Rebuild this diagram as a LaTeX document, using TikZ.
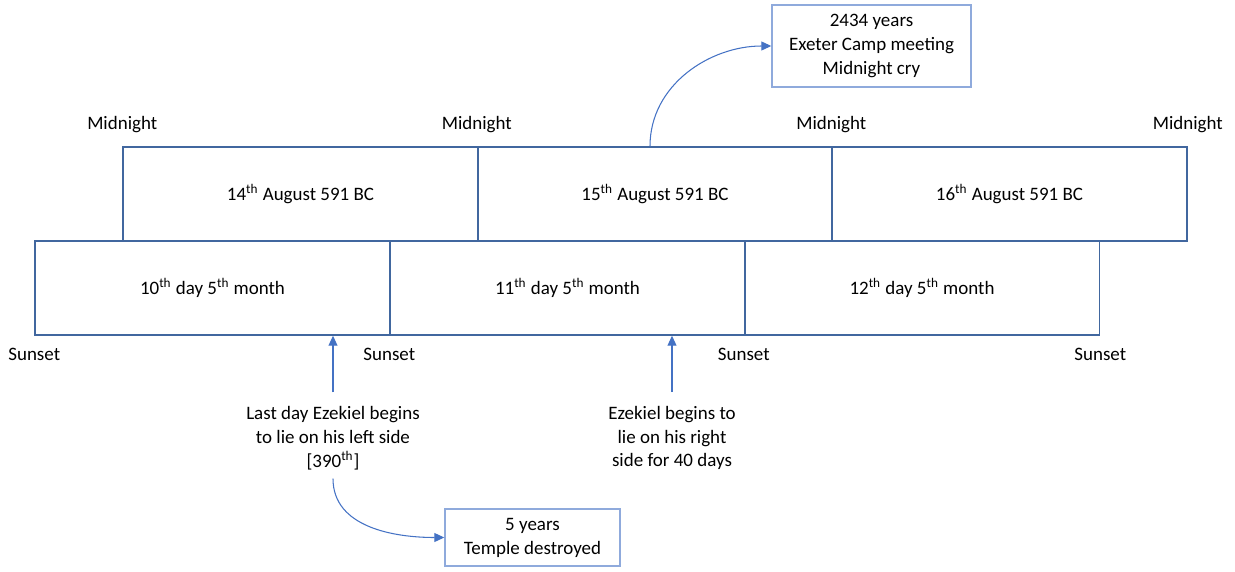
\documentclass[tikz,border=0pt]{standalone}
\usepackage{fontspec}
\setmainfont{Carlito}
\usepackage{tikz}
\usetikzlibrary{arrows.meta,calc,positioning}
\definecolor{daybox}{HTML}{41679F}
\definecolor{notebox}{HTML}{8FAADC}
\definecolor{arrowblue}{HTML}{4472C4}
\newcommand{\thsup}{\textsuperscript{th}}

\begin{document}
\begin{tikzpicture}[>={Triangle[length=2mm,width=1.8mm]},
  font=\fontsize{10.8}{13.6}\selectfont,
  day/.style={draw=daybox,line width=0.85pt,minimum width=7.1cm,minimum height=1.88cm,inner sep=0pt},
  note/.style={draw=notebox,line width=0.8pt,align=center},
  lbl/.style={inner sep=0pt},
  txt/.style={align=center,inner sep=2pt},
  pointer/.style={->,arrowblue,line width=0.6pt}]
  \useasboundingbox (0,0) rectangle (24.7,11.42);

  % calendar days, midnight to midnight
  \node[day] (aug14) at (6.01,7.54) {14\thsup{} August 591 BC};
  \node[day] (aug15) at (13.1,7.54) {15\thsup{} August 591 BC};
  \node[day] (aug16) at (20.19,7.54) {16\thsup{} August 591 BC};

  % hebrew days, sunset to sunset
  \node[day] (day10) at (4.25,5.66) {10\thsup{} day 5\thsup{} month};
  \node[day] (day11) at (11.35,5.66) {11\thsup{} day 5\thsup{} month};
  \node[day] (day12) at (18.44,5.66) {12\thsup{} day 5\thsup{} month};

  \node[lbl] (mid1) at ([yshift=0.43cm]aug14.north west) {Midnight};
  \node[lbl] (mid2) at ([yshift=0.43cm]aug15.north west) {Midnight};
  \node[lbl] (mid3) at ([yshift=0.43cm]aug16.north west) {Midnight};
  \node[lbl] (mid4) at ([yshift=0.43cm]aug16.north east) {Midnight};

  \node[lbl] (sun1) at ([yshift=-0.37cm]day10.south west) {Sunset};
  \node[lbl] (sun2) at ([yshift=-0.37cm]day11.south west) {Sunset};
  \node[lbl] (sun3) at ([yshift=-0.37cm]day12.south west) {Sunset};
  \node[lbl] (sun4) at ([yshift=-0.37cm]day12.south east) {Sunset};

  % notes
  \node[txt] (left) at (6.66,2.66) {Last day Ezekiel begins\\to lie on his left side\\{}[390\thsup]};
  \node[txt] (right) at (13.44,2.66) {Ezekiel begins to\\lie on his right\\side for 40 days};
  \node[note,minimum width=3.5cm,minimum height=1.14cm] (temple) at (10.65,0.67) {5 years\\Temple destroyed};
  \node[note,minimum width=3.98cm,minimum height=1.64cm] (camp) at (17.43,10.5) {2434 years\\Exeter Camp meeting\\Midnight cry};

  \draw[pointer] ([yshift=0.2cm]left.north) -- (left.north |- day10.south);
  \draw[pointer] ([yshift=0.2cm]right.north) -- (right.north |- day11.south);
  \draw[pointer] ([yshift=-0.1cm]left.south) to[out=-90,in=180] (temple.west);
  \draw[pointer] ([xshift=-0.1cm]aug15.north) to[out=90,in=180] (camp.west);
\end{tikzpicture}
\end{document}
